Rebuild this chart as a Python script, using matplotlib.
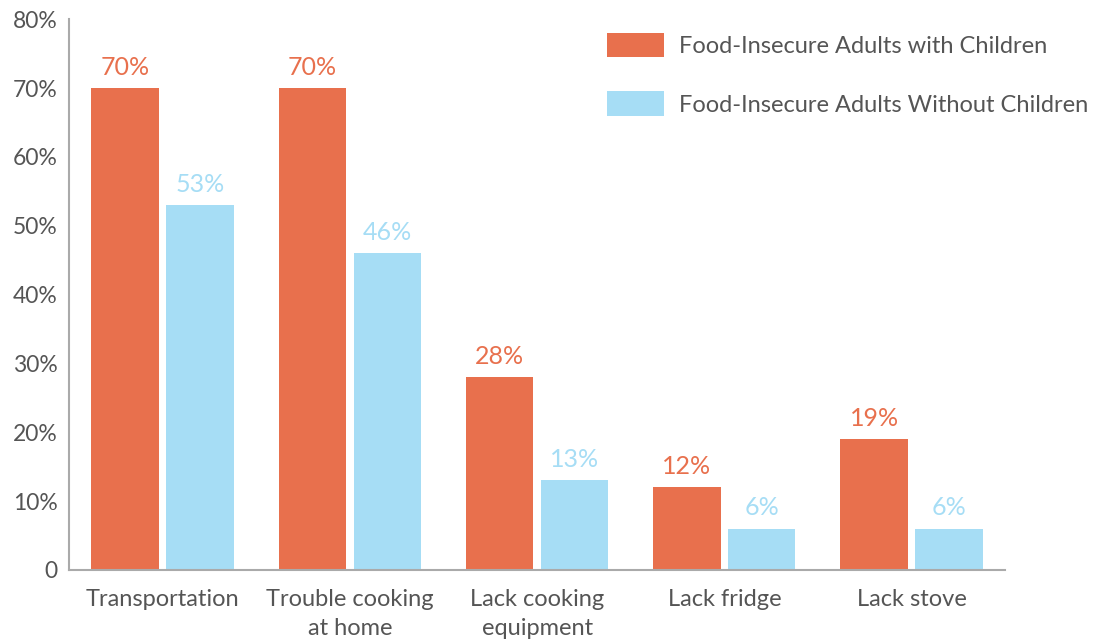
import matplotlib.pyplot as plt
import numpy as np

categories = ['Transportation', 'Trouble cooking\nat home', 'Lack cooking\nequipment',
              'Lack fridge', 'Lack stove']
with_children = [70, 70, 28, 12, 19]
without_children = [53, 46, 13, 6, 6]
series_names = ['Food-Insecure Adults with Children', 'Food-Insecure Adults Without Children']
yticks = [0, 10, 20, 30, 40, 50, 60, 70, 80]
ytick_labels = ['0', '10%', '20%', '30%', '40%', '50%', '60%', '70%', '80%']

orange = '#E8704D'
blue = '#A6DDF5'
grey = '#555555'

plt.rcParams['font.family'] = ['Lato', 'DejaVu Sans']

fig = plt.figure(figsize=(10.95, 6.44), dpi=100)
ax = fig.add_axes([0.063, 0.115, 0.855, 0.855])

x = np.arange(len(categories))
w = 0.36
off = 0.2
b1 = ax.bar(x - off, with_children, w, color=orange, label=series_names[0])
b2 = ax.bar(x + off, without_children, w, color=blue, label=series_names[1])

for rect, v in zip(b1, with_children):
    ax.text(rect.get_x() + rect.get_width() / 2, v + 1.4, '%d%%' % v,
            ha='center', va='bottom', color=orange, fontsize=18)
for rect, v in zip(b2, without_children):
    ax.text(rect.get_x() + rect.get_width() / 2, v + 1.4, '%d%%' % v,
            ha='center', va='bottom', color=blue, fontsize=18)

ax.set_xlim(-0.5, len(categories) - 0.5)
ax.set_ylim(0, 80)
ax.set_yticks(yticks)
ax.set_yticklabels(ytick_labels)
ax.set_xticks(x)
ax.set_xticklabels(categories, linespacing=1.45)
ax.tick_params(axis='both', length=0, labelcolor=grey)
ax.tick_params(axis='x', pad=14, labelsize=17)
ax.tick_params(axis='y', pad=8, labelsize=16.5)

for s in ['top', 'right']:
    ax.spines[s].set_visible(False)
for s in ['left', 'bottom']:
    ax.spines[s].set_color('#AAAAAA')
    ax.spines[s].set_linewidth(1.5)

leg = fig.legend(handles=[b1, b2], labels=series_names, loc='upper left',
                 bbox_to_anchor=(607 / 1095, 1 - 33 / 644), frameon=False,
                 fontsize=17, handlelength=2.4, handleheight=1.2,
                 labelspacing=1.45, handletextpad=0.65, borderpad=0, borderaxespad=0)
for t in leg.get_texts():
    t.set_color(grey)

fig.savefig('out.png', dpi=100)
